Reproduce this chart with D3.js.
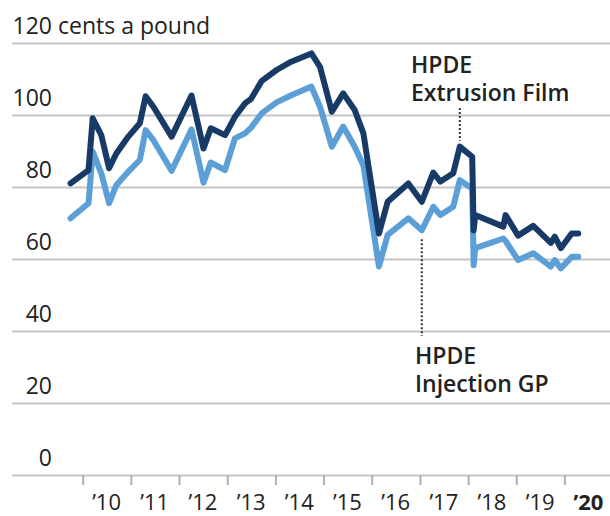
<!DOCTYPE html>
<html><head><meta charset="utf-8">
<script src="https://cdn.jsdelivr.net/npm/d3@7"></script>
<style>
body{margin:0;background:#fff}
text{font-family:"Open Sans",sans-serif;fill:#222}
</style>
</head><body>
<svg id="c" width="610" height="516"></svg>
<script>
// ---- data ----
const dates = [
 "2009-10-01","2010-02-14","2010-03-18","2010-05-22","2010-07-20","2010-09-13","2010-12-13",
 "2011-03-10","2011-04-23","2011-06-21","2011-11-06",
 "2012-04-05","2012-07-05","2012-08-29","2012-12-15",
 "2013-02-28","2013-05-15","2013-07-01","2013-09-20",
 "2014-01-10","2014-05-01","2014-10-01","2014-12-05",
 "2015-03-05","2015-05-30","2015-08-25","2015-10-30",
 "2016-02-25","2016-05-01","2016-10-05",
 "2017-01-15","2017-04-12","2017-06-05","2017-09-10","2017-10-30",
 "2018-02-01","2018-02-12","2018-02-24","2018-09-25","2018-10-12",
 "2019-01-15","2019-05-10","2019-09-20","2019-10-20","2019-12-05",
 "2020-02-25","2020-04-15"
];
const extrusionFilm = [
 81.0, 84.7, 99.1, 94.4, 85.2, 89.3, 94.0,
 97.7, 105.2, 102.3, 94.0,
 105.4, 90.7, 96.3, 94.4,
 99.5, 103.2, 104.5, 109.5,
 112.5, 114.8, 117.1, 113.4,
 100.9, 106.0, 101.4, 94.9,
 67.1, 75.9, 81.0,
 75.9, 84.0, 81.5, 83.8, 91.2,
 88.4, 68.0, 72.2, 69.0, 72.2,
 66.5, 69.2, 64.5, 66.2, 63.0,
 67.1, 67.1
];
const injectionGP = [
 71.3, 75.5, 89.8, 83.8, 75.5, 80.5, 84.3,
 87.5, 95.8, 93.0, 84.5,
 96.0, 81.2, 86.8, 84.7,
 93.5, 94.9, 96.5, 100.5,
 103.5, 105.5, 107.9, 102.3,
 91.2, 96.8, 91.2, 86.0,
 57.9, 66.7, 71.3,
 68.0, 74.5, 72.2, 74.5, 81.9,
 79.6, 58.3, 63.0, 65.7, 65.0,
 59.7, 61.6, 57.9, 59.7, 57.4,
 60.6, 60.6
];
const yTicks = [0, 20, 40, 60, 80, 100, 120];
const yearTicks = [2010, 2011, 2012, 2013, 2014, 2015, 2016, 2017, 2018, 2019, 2020];
const yearLabels = ["’10","’11","’12","’13","’14","’15","’16","’17","’18","’19","’20"];
const unitLabel = "cents a pound";
const seriesNames = [["HPDE","Extrusion Film"],["HPDE","Injection GP"]];

// ---- chart ----
const svg = d3.select("#c");
const parse = d3.timeParse("%Y-%m-%d");
const x = d3.scaleTime()
  .domain([new Date(2010,0,1), new Date(2020,0,1)])
  .range([82.7, 564.4]);
const y = d3.scaleLinear().domain([0,120]).range([475,43]);

// gridlines
const grid = svg.append("g").attr("transform","translate(12,0)")
  .call(d3.axisRight(y).tickValues(yTicks).tickSize(598).tickFormat(""));
grid.select(".domain").remove();
grid.selectAll("line").attr("stroke","#c4c4c4").attr("stroke-width",2);

// y labels
svg.append("g").selectAll("text").data(yTicks).join("text")
  .attr("x",52).attr("y",d=>y(d)-9)
  .attr("text-anchor","end").attr("font-size",23)
  .text(d=>d);
svg.append("text").attr("x",58).attr("y",y(120)-9)
  .attr("font-size",23).text(unitLabel);

// x ticks
const xa = svg.append("g").attr("transform","translate(0,475)")
  .call(d3.axisBottom(x).tickValues(yearTicks.map(yr=>new Date(yr,0,1))).tickSize(10).tickFormat(""));
xa.select(".domain").remove();
xa.selectAll("line").attr("stroke","#b0b0b0").attr("stroke-width",2);

// x labels (mid-year)
svg.append("g").selectAll("text").data(yearTicks).join("text")
  .attr("x",(d)=>x(new Date(d,6,1)))
  .attr("y",510)
  .attr("text-anchor","middle").attr("font-size",22)
  .attr("font-weight",(d,i)=>i===yearTicks.length-1?700:400)
  .text((d,i)=>yearLabels[i]);

// lines
const pts = dates.map((d,i)=>({date:parse(d), a:extrusionFilm[i], b:injectionGP[i]}));
const lineB = d3.line().x(d=>x(d.date)).y(d=>y(d.b));
const lineA = d3.line().x(d=>x(d.date)).y(d=>y(d.a));
svg.append("path").datum(pts).attr("d",lineB)
  .attr("fill","none").attr("stroke","#5b9fd6").attr("stroke-width",6)
  .attr("stroke-linejoin","round").attr("stroke-linecap","round");
svg.append("path").datum(pts).attr("d",lineA)
  .attr("fill","none").attr("stroke","#173a66").attr("stroke-width",6)
  .attr("stroke-linejoin","round").attr("stroke-linecap","round");

// annotations
const iA = dates.indexOf("2017-10-30");
const iB = dates.indexOf("2017-01-15");
svg.append("line")
  .attr("x1",x(pts[iA].date)).attr("x2",x(pts[iA].date))
  .attr("y1",108).attr("y2",y(pts[iA].a)-6)
  .attr("stroke","#333").attr("stroke-width",2).attr("stroke-dasharray","2 2");
svg.append("line")
  .attr("x1",x(pts[iB].date)).attr("x2",x(pts[iB].date))
  .attr("y1",y(pts[iB].b)+9).attr("y2",336)
  .attr("stroke","#333").attr("stroke-width",2).attr("stroke-dasharray","2 2");

function label(lines, lx, ly){
  lines.forEach((s,i)=>svg.append("text")
    .attr("font-size",23).attr("font-weight",600)
    .attr("x",lx).attr("y",ly+i*27.5).text(s));
}
label(seriesNames[0], 411, 73);
label(seriesNames[1], 415, 364);
</script>
</body></html>
